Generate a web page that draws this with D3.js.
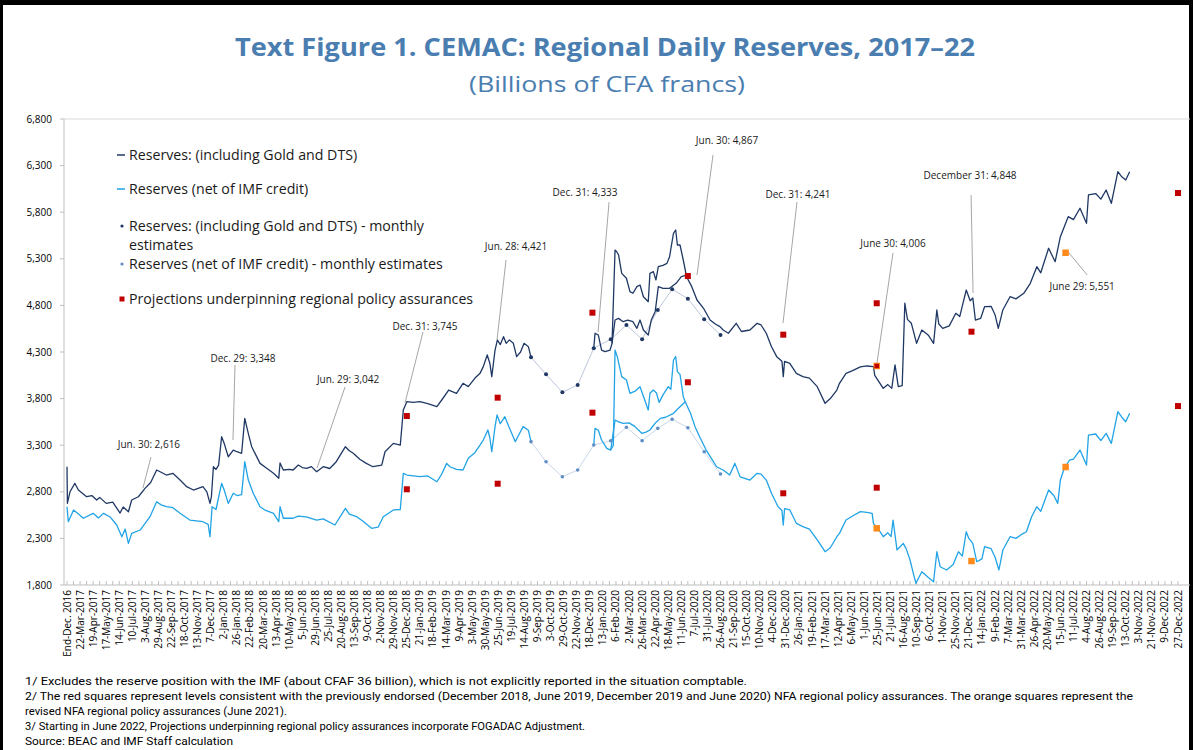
<!DOCTYPE html>
<html>
<head>
<meta charset="utf-8">
<script src="https://cdn.jsdelivr.net/npm/d3@7"></script>
<style>
  body { margin: 0; background: #fff; }
  svg text { font-family: "Open Sans", "Noto Sans", sans-serif; }
  svg text.note { font-family: Roboto, "Liberation Sans", sans-serif; }
</style>
</head>
<body>
<svg id="chart" width="1193" height="750"></svg>
<script>
// category axis labels (one every ~18 business days)
const tickLabels = ['End-Dec. 2016', '22-Mar-2017', '19-Apr-2017', '17-May-2017', '14-Jun-2017', '10-Jul-2017', '3-Aug-2017', '29-Aug-2017',
    '22-Sep-2017', '18-Oct-2017', '13-Nov-2017', '7-Dec-2017', '2-Jan-2018', '26-Jan-2018', '22-Feb-2018', '20-Mar-2018', '13-Apr-2018',
    '10-May-2018', '5-Jun-2018', '29-Jun-2018', '25-Jul-2018', '20-Aug-2018', '13-Sep-2018', '9-Oct-2018', '2-Nov-2018', '29-Nov-2018',
    '25-Dec-2018', '21-Jan-2019', '18-Feb-2019', '14-Mar-2019', '9-Apr-2019', '3-May-2019', '30-May-2019', '25-Jun-2019', '19-Jul-2019',
    '14-Aug-2019', '9-Sep-2019', '3-Oct-2019', '29-Oct-2019', '22-Nov-2019', '18-Dec-2019', '13-Jan-2020', '6-Feb-2020', '2-Mar-2020',
    '26-Mar-2020', '22-Apr-2020', '18-May-2020', '11-Jun-2020', '7-Jul-2020', '31-Jul-2020', '26-Aug-2020', '21-Sep-2020', '15-Oct-2020',
    '10-Nov-2020', '4-Dec-2020', '31-Dec-2020', '26-Jan-2021', '19-Feb-2021', '17-Mar-2021', '12-Apr-2021', '6-May-2021', '1-Jun-2021',
    '25-Jun-2021', '21-Jul-2021', '16-Aug-2021', '10-Sep-2021', '6-Oct-2021', '1-Nov-2021', '25-Nov-2021', '21-Dec-2021', '14-Jan-2022',
    '9-Feb-2022', '7-Mar-2022', '31-Mar-2022', '26-Apr-2022', '20-May-2022', '15-Jun-2022', '11-Jul-2022', '4-Aug-2022', '26-Aug-2022',
    '19-Sep-2022', '13-Oct-2022', '3-Nov-2022', '21-Nov-2022', '9-Dec-2022', '27-Dec-2022'];

const yTicks = [1800, 2300, 2800, 3300, 3800, 4300, 4800, 5300, 5800, 6300, 6800];

// daily series, [position on category axis, billions CFAF]
const grossDailyA = [[0,3070],[0.03,2676],[0.23,2801],[0.6,2891],[0.87,2819],[1.5,2747],[1.9,2760],[2.27,2712],[2.5,2740],[3.0,2676],[3.5,2690],
    [4.06,2572],[4.3,2637],[4.7,2586],[4.95,2712],[5.46,2747],[5.97,2837],[6.4,2900],[6.86,3034],[7.2,3010],[7.6,2980],[8.1,2998],[8.65,2926],
    [9.16,2855],[9.67,2819],[10.4,2855],[10.7,2800],[10.94,2676],[11.05,2750],[11.2,3069],[11.4,3040],[11.6,3087],[11.83,3391],[12.0,3330],
    [12.34,3176],[12.72,3248],[13.0,3230],[13.36,3213],[13.6,3588],[13.87,3427],[14.13,3284],[14.5,3180],[14.77,3105],[15.2,3060],[15.8,2998],
    [16.2,2945],[16.3,3109],[16.55,3034],[17.0,3040],[17.3,3034],[17.7,3087],[18.0,3060],[18.34,3052],[18.7,3070],[19.1,3016],[19.6,3069],
    [20.1,3050],[20.6,3123],[21.3,3284],[21.6,3240],[21.9,3213],[22.4,3150],[22.9,3105],[23.4,3069],[24.08,3087],[24.33,3230],[24.97,3320],
    [25.5,3302],[25.73,3678],[26.0,3767],[26.5,3760],[27.0,3767],[27.6,3745],[28.3,3713],[28.67,3785],[29.2,3892],[29.8,3857],[30.3,3964],
    [30.7,3928],[31.2,4018],[31.6,4071],[31.85,4143],[32.15,4268],[32.35,4180],[32.5,4036],[32.75,4321],[32.93,4429],[33.15,4380],[33.4,4464],
    [33.6,4393],[33.85,4430],[34.15,4393],[34.4,4250],[34.7,4300],[34.97,4393],[35.3,4357],[35.5,4243]];
const grossDailyB = [[40.3,4340],[40.4,4501],[40.65,4482],[40.9,4321],[41.16,4304],[41.55,4321],[41.7,4393],[41.93,5394],[42.06,5376],[42.2,5341],
    [42.44,5144],[42.8,5091],[43.07,4947],[43.3,4930],[43.6,5001],[43.84,5019],[44.1,4893],[44.47,4840],[44.6,5144],[44.86,5162],[45.06,5073],
    [45.24,5215],[45.6,5230],[45.9,5251],[46.1,5322],[46.4,5574],[46.57,5609],[46.7,5448],[46.9,5448],[47.15,5287],[47.4,5108],[47.8,5001],
    [48.2,4858],[48.7,4769],[49.2,4643],[49.6,4600],[49.96,4572],[50.2,4536],[50.6,4501],[51.2,4608],[51.6,4520],[52.25,4536],[52.8,4608],
    [53.1,4590],[53.5,4501],[53.9,4357],[54.3,4250],[54.7,4200],[54.8,4036],[54.9,4200],[55.3,4179],[55.8,4071],[56.3,4036],[56.8,4020],
    [57.4,3928],[58.0,3749],[58.4,3800],[58.9,3892],[59.1,3964],[59.6,4071],[60.1,4100],[60.7,4140],[61.2,4150],[61.7,4143],[61.8,4050],
    [62.2,3964],[62.45,3910],[62.8,3950],[63.1,3910],[63.35,4161],[63.6,3928],[63.9,3940],[64.1,4823],[64.3,4650],[64.6,4608],[65.0,4393],
    [65.4,4536],[65.9,4480],[66.3,4393],[66.55,4751],[66.7,4600],[67.0,4554],[67.5,4580],[68.0,4715],[68.3,4680],[68.8,4965],[69.1,4850],
    [69.3,4880],[69.5,4643],[69.9,4660],[70.2,4786],[70.7,4790],[71.0,4700],[71.25,4554],[71.6,4751],[72.15,4893],[72.6,4870],[73.2,4930],
    [73.7,5037],[74.2,5215],[74.5,5150],[75.1,5413],[75.6,5269],[76.0,5537],[76.6,5752],[77.0,5720],[77.5,5842],[78.0,5681],[78.15,5985],
    [78.7,6000],[79.1,5940],[79.5,6038],[79.9,5895],[80.4,6235],[80.7,6180],[81.0,6146],[81.3,6235]];
// second (overlapping) stretch of the gross series, Jan-Jun 2020
const grossDailyC = [[41.7,4393],[41.93,4643],[42.2,4661],[42.55,4625],[42.9,4643],[43.3,4625],[43.6,4554],[43.84,4643],[44.1,4536],[44.47,4482],
    [44.7,4643],[45.0,4732],[45.24,5001],[45.6,4983],[46.1,4983],[46.6,5037],[47.0,5108],[47.4,5126]];

const netDailyA = [[0,2640],[0.1,2479],[0.5,2605],[0.9,2560],[1.25,2516],[2.0,2569],[2.4,2520],[2.8,2569],[3.3,2530],[3.8,2444],[4.2,2318],
    [4.45,2400],[4.7,2247],[4.95,2354],[5.6,2390],[6.35,2533],[6.86,2694],[7.2,2660],[7.6,2640],[8.1,2630],[8.65,2569],[9.4,2497],[10.4,2479],
    [10.8,2450],[10.94,2318],[11.1,2640],[11.4,2610],[11.83,2891],[12.0,2830],[12.34,2676],[12.72,2784],[13.0,2760],[13.36,2770],[13.6,3123],
    [13.87,2926],[14.25,2784],[14.77,2640],[15.2,2600],[15.8,2569],[16.2,2479],[16.3,2640],[16.55,2516],[17.3,2516],[17.7,2540],[18.3,2530],
    [19.1,2497],[19.6,2510],[20.5,2444],[21.3,2623],[21.6,2560],[22.2,2530],[22.7,2479],[23.3,2408],[23.8,2420],[24.2,2533],[24.97,2605],
    [25.5,2610],[25.73,2998],[26.0,2980],[27.0,2962],[27.6,2970],[28.3,2908],[28.67,2990],[29.05,3105],[29.3,3069],[29.8,3040],[30.3,3034],
    [30.7,3159],[31.2,3220],[31.6,3300],[31.85,3356],[32.2,3463],[32.35,3380],[32.5,3230],[32.75,3500],[32.9,3624],[33.15,3530],[33.5,3606],
    [33.8,3500],[34.3,3338],[34.6,3420],[34.9,3499],[35.3,3460],[35.5,3338]];
const netDailyB = [[40.3,3302],[40.4,3481],[40.65,3460],[40.9,3356],[41.3,3266],[41.6,3248],[41.8,3300],[41.93,4321],[42.1,4250],[42.44,4036],
    [42.8,4000],[43.07,3857],[43.46,3880],[43.84,3928],[44.2,3785],[44.47,3678],[44.6,3857],[44.86,3892],[45.1,3860],[45.3,3760],[45.6,3840],
    [46.0,3928],[46.2,3900],[46.4,4214],[46.57,4250],[46.7,4089],[46.9,4060],[47.15,3821],[47.3,3767],[47.7,3642],[48.05,3499],[48.4,3391],
    [48.9,3248],[49.3,3159],[49.7,3069],[50.2,3034],[50.7,2980],[51.1,3105],[51.5,2960],[52.25,2926],[52.8,2998],[53.1,2990],[53.5,2926],
    [53.9,2784],[54.4,2640],[54.7,2600],[54.8,2444],[54.9,2620],[55.3,2605],[55.8,2462],[56.3,2426],[56.8,2400],[57.4,2283],[58.0,2157],
    [58.4,2200],[58.9,2318],[59.1,2354],[59.6,2497],[60.1,2540],[60.7,2587],[61.2,2580],[61.6,2569],[61.7,2462],[62.2,2372],[62.45,2318],
    [62.8,2360],[63.05,2320],[63.2,2497],[63.5,2176],[63.98,2247],[64.2,2190],[64.5,2068],[64.75,1925],[64.95,1818],[65.4,1943],[65.9,1880],
    [66.3,1835],[66.55,2157],[66.8,1996],[67.3,1961],[67.8,2020],[68.2,2157],[68.5,2110],[68.8,2372],[69.0,2300],[69.3,2247],[69.6,2050],
    [70.0,2080],[70.2,2211],[70.7,2190],[71.0,2100],[71.3,1961],[71.6,2175],[72.15,2318],[72.6,2300],[73.0,2340],[73.4,2372],[73.8,2533],
    [74.2,2640],[74.5,2590],[75.1,2819],[75.5,2760],[75.8,2676],[76.0,2926],[76.3,3052],[76.7,3141],[77.0,3150],[77.5,3248],[78.0,3087],
    [78.15,3409],[78.7,3420],[79.1,3350],[79.5,3427],[79.9,3320],[80.4,3660],[80.7,3600],[81.0,3552],[81.3,3642]];
const netDailyC = [[41.6,3248],[41.93,3570],[42.2,3550],[42.55,3535],[43.0,3540],[43.46,3499],[43.97,3428],[44.3,3440],[44.6,3463],[44.99,3535],
    [45.4,3588],[45.8,3600],[46.4,3642],[46.9,3713],[47.3,3767]];

// monthly estimates (gap in daily data)
const monthlyPos = [35.5, 36.65, 37.9, 39.07, 40.3, 41.6, 42.8, 44.0, 45.2, 46.3, 47.5, 48.75, 50.0];
const grossMonthly = [4243, 4060, 3868, 3946, 4340, 4436, 4590, 4436, 4751, 4973, 4872, 4651, 4482];
const netMonthly = [3338, 3123, 2962, 3034, 3302, 3348, 3492, 3348, 3481, 3578, 3488, 3230, 2991];

// policy assurance projections
const redSquares = [[26.0,3613],[26.0,2827],[32.95,3810],[32.95,2887],[40.2,4722],[40.2,3649],[47.5,5115],[47.5,3975],
    [54.8,4486],[54.8,2784],[61.95,4823],[61.95,2844],[69.2,4518],[85.0,6006],[85.0,3720]];
const orangeSquares = [[61.95,4150],[61.95,2408],[69.2,2057],[76.4,5365],[76.4,3066]];
const redOnOrange = [[61.95,4150]];

const annotations = [
    { text: 'Jun. 30: 2,616', pos: 5.81, val: 2840 },
    { text: 'Dec. 29: 3,348', pos: 12.7, val: 3356 },
    { text: 'Jun. 29: 3,042', pos: 19.13, val: 3055 },
    { text: 'Dec. 31: 3,745', pos: 25.86, val: 3753 },
    { text: 'Jun. 28: 4,421', pos: 32.9, val: 4429 },
    { text: 'Dec. 31: 4,333', pos: 40.63, val: 4514 },
    { text: 'Jun. 30: 4,867', pos: 48.2, val: 5126 },
    { text: 'Dec. 31: 4,241', pos: 54.78, val: 4611 },
    { text: 'June 30: 4,006', pos: 61.97, val: 4182 },
    { text: 'December 31: 4,848', pos: 69.32, val: 4933 },
    { text: 'June 29: 5,551', pos: 76.6, val: 5373 },
];
// leader end dx, dy and label centre dx, dy (pixels from the pointed value)
const annotLayout = [[8,-31,6,-44],[2,-75,10,-81],[28,-81,31,-89],[18,-71,20,-76],[9,-80,19,-93],[11,-130,-13,-140],
    [16,-120,30,-135],[14,-121,15,-129],[16,-110,16,-119],[-2,-98,-3,-118],[19,23,14,35]];

const legendItems = [
    { label: 'Reserves: (including Gold and DTS)', type: 'line', color: '#1f3864' },
    { label: 'Reserves (net of IMF credit)', type: 'line', color: '#21a3e6' },
    { label: 'Reserves: (including Gold and DTS) - monthly', label2: 'estimates', type: 'dot', color: '#1f3864' },
    { label: 'Reserves (net of IMF credit) - monthly estimates', type: 'dot', color: '#5f8dc4' },
    { label: 'Projections underpinning regional policy assurances', type: 'square', color: '#c00000' },
];

const footnotes = [
    ['1/ Excludes the reserve position with the IMF (about CFAF 36 billion), which is not explicitly reported in the situation comptable.', 722],
    ['2/ The red squares represent levels consistent with the previously endorsed (December 2018, June 2019, December 2019 and June 2020) NFA regional policy assurances. The orange squares represent the', 1108],
    ['revised NFA regional policy assurances (June 2021).', 262],
    ['3/ Starting in June 2022, Projections underpinning regional policy assurances incorporate FOGADAC Adjustment.', 560],
    ['Source: BEAC and IMF Staff calculation', 208],
];

const svg = d3.select('#chart');
const W = 1193, H = 750;
const plot = { left: 64, right: 1190, top: 119, bottom: 585 };

const x = d3.scaleLinear().domain([0, 85]).range([67, 1178]);
const y = d3.scaleLinear().domain([1800, 6800]).range([plot.bottom, plot.top]);

svg.append('rect').attr('width', W).attr('height', H).attr('fill', '#fff');

// frame
svg.append('rect').attr('x', 0).attr('y', 0).attr('width', W).attr('height', 5).attr('fill', '#000');
svg.append('rect').attr('x', 0).attr('y', 0).attr('width', 3).attr('height', H).attr('fill', '#000');
svg.append('rect').attr('x', W - 4).attr('y', 0).attr('width', 4).attr('height', H).attr('fill', '#000');

// titles
svg.append('text').attr('x', 605).attr('y', 56).attr('text-anchor', 'middle')
    .attr('font-size', 25).attr('font-weight', 700).attr('fill', '#4a7db0')
    .attr('textLength', 740).attr('lengthAdjust', 'spacingAndGlyphs')
    .text('Text Figure 1. CEMAC: Regional Daily Reserves, 2017\u201322');
svg.append('text').attr('x', 607).attr('y', 92).attr('text-anchor', 'middle')
    .attr('font-size', 22).attr('fill', '#4a7db0')
    .attr('textLength', 276).attr('lengthAdjust', 'spacingAndGlyphs')
    .text('(Billions of CFA francs)');

// plot frame lines
svg.append('line').attr('x1', plot.left).attr('x2', plot.right).attr('y1', plot.top).attr('y2', plot.top)
    .attr('stroke', '#d9d9d9').attr('stroke-width', 1);
svg.append('line').attr('x1', plot.left).attr('x2', plot.left).attr('y1', plot.top).attr('y2', plot.bottom)
    .attr('stroke', '#bfbfbf').attr('stroke-width', 1);
svg.append('line').attr('x1', plot.left).attr('x2', plot.right).attr('y1', plot.bottom).attr('y2', plot.bottom)
    .attr('stroke', '#bfbfbf').attr('stroke-width', 1);

// y axis
const yAxis = svg.append('g');
yAxis.selectAll('line').data(yTicks).enter().append('line')
    .attr('x1', plot.left - 4).attr('x2', plot.left)
    .attr('y1', d => y(d)).attr('y2', d => y(d))
    .attr('stroke', '#bfbfbf');
yAxis.selectAll('text').data(yTicks).enter().append('text')
    .attr('x', 52).attr('y', d => y(d)).attr('dy', '0.35em')
    .attr('text-anchor', 'end').attr('font-size', 10).attr('fill', '#000')
    .text(d => d3.format(',')(d));

// x axis ticks and labels
const xTickPos = d3.range(0, 171).map(k => k * 0.5);
svg.append('g').selectAll('line').data(xTickPos).enter().append('line')
    .attr('x1', d => x(d)).attr('x2', d => x(d))
    .attr('y1', plot.bottom - 4).attr('y2', plot.bottom)
    .attr('stroke', '#bfbfbf');
svg.append('g').selectAll('text').data(tickLabels).enter().append('text')
    .attr('transform', (d, i) => 'translate(' + x(i) + ',' + (plot.bottom + 5) + ') rotate(-90)')
    .attr('dy', '0.35em').attr('text-anchor', 'end')
    .attr('font-size', 10).attr('fill', '#000')
    .text(d => d);

const line = d3.line().x(d => x(d[0])).y(d => y(d[1]));

// monthly estimates connectors
const grossM = monthlyPos.map((p, i) => [p, grossMonthly[i]]);
const netM = monthlyPos.map((p, i) => [p, netMonthly[i]]);
svg.append('path').datum(grossM).attr('d', line).attr('fill', 'none').attr('stroke', '#a9b8d0').attr('stroke-width', 0.8);
svg.append('path').datum(netM).attr('d', line).attr('fill', 'none').attr('stroke', '#b9cbe0').attr('stroke-width', 0.8);

// daily series
[netDailyA, netDailyB, netDailyC].forEach(function (s) {
    svg.append('path').datum(s).attr('d', line).attr('fill', 'none')
        .attr('stroke', '#21a3e6').attr('stroke-width', 1.3).attr('stroke-linejoin', 'round');
});
[grossDailyA, grossDailyB, grossDailyC].forEach(function (s) {
    svg.append('path').datum(s).attr('d', line).attr('fill', 'none')
        .attr('stroke', '#1f3864').attr('stroke-width', 1.3).attr('stroke-linejoin', 'round');
});

// monthly dots
svg.append('g').selectAll('circle').data(grossM).enter().append('circle')
    .attr('cx', d => x(d[0])).attr('cy', d => y(d[1])).attr('r', 2).attr('fill', '#1f3864');
svg.append('g').selectAll('circle').data(netM).enter().append('circle')
    .attr('cx', d => x(d[0])).attr('cy', d => y(d[1])).attr('r', 1.8).attr('fill', '#5f8dc4');

// annotations
annotations.forEach(function (a, i) {
    const px = x(a.pos), py = y(a.val), L = annotLayout[i];
    svg.append('line').attr('x1', px).attr('y1', py).attr('x2', px + L[0]).attr('y2', py + L[1])
        .attr('stroke', '#a6a6a6').attr('stroke-width', 1);
    svg.append('text').attr('x', px + L[2]).attr('y', py + L[3]).attr('dy', '0.35em')
        .attr('text-anchor', 'middle').attr('font-size', 10).attr('fill', '#1a1a1a')
        .text(a.text);
});

// projection squares
function squares(data, size, color) {
    svg.append('g').selectAll('rect').data(data).enter().append('rect')
        .attr('x', d => x(d[0]) - size / 2).attr('y', d => y(d[1]) - size / 2)
        .attr('width', size).attr('height', size).attr('fill', color);
}
squares(redSquares, 6, '#c00000');
squares(orangeSquares, 6.5, '#ff8a1c');
squares(redOnOrange, 4.5, '#c00000');

// legend
const legendY = [155, 189, 226, 264, 299];
const legend = svg.append('g');
legendItems.forEach(function (item, i) {
    const ly = legendY[i];
    if (item.type === 'line') {
        legend.append('line').attr('x1', 117).attr('x2', 125).attr('y1', ly).attr('y2', ly)
            .attr('stroke', item.color).attr('stroke-width', 1.5);
    } else if (item.type === 'dot') {
        legend.append('circle').attr('cx', 122).attr('cy', ly).attr('r', 1.6).attr('fill', item.color);
    } else {
        legend.append('rect').attr('x', 119.5).attr('y', ly - 2.5).attr('width', 5).attr('height', 5).attr('fill', item.color);
    }
    legend.append('text').attr('x', 129).attr('y', ly).attr('dy', '0.35em')
        .attr('font-size', 14.2).attr('fill', '#1a1a1a').text(item.label);
    if (item.label2) {
        legend.append('text').attr('x', 129).attr('y', ly + 19).attr('dy', '0.35em')
            .attr('font-size', 14.2).attr('fill', '#1a1a1a').text(item.label2);
    }
});

// footnotes
const noteY = [681, 696, 711, 726, 741];
footnotes.forEach(function (f, i) {
    svg.append('text').attr('class', 'note').attr('x', 25).attr('y', noteY[i]).attr('dy', '0.35em')
        .attr('font-size', 11.5).attr('fill', '#000')
        .attr('textLength', f[1]).attr('lengthAdjust', 'spacingAndGlyphs')
        .text(f[0]);
});
</script>
</body>
</html>
